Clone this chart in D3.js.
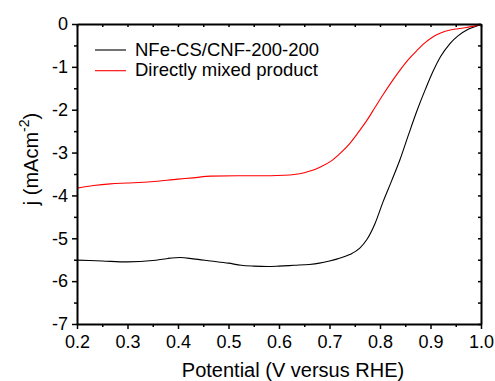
<!DOCTYPE html>
<html>
<head>
<meta charset="utf-8">
<script src="https://cdn.jsdelivr.net/npm/d3@7"></script>
<style>
  html, body { margin: 0; padding: 0; background: #fff; }
  svg text { font-family: "Liberation Sans", Arial, sans-serif; fill: #000; }
</style>
</head>
<body>
<svg id="chart" width="495" height="381"></svg>
<script>
// Linear sweep voltammetry curves: current density vs. potential
const potentialNFe = [0.20, 0.25, 0.30, 0.35, 0.38, 0.405, 0.43, 0.465, 0.50, 0.525, 0.55, 0.577, 0.60, 0.63, 0.66, 0.68, 0.70, 0.716, 0.74, 0.76, 0.774, 0.79, 0.806, 0.823, 0.84, 0.856, 0.873, 0.89, 0.906, 0.92, 0.939, 0.955, 0.972, 0.986, 1.0];
const currentNFe   = [-5.51, -5.53, -5.55, -5.52, -5.47, -5.45, -5.48, -5.53, -5.58, -5.63, -5.65, -5.66, -5.65, -5.63, -5.61, -5.58, -5.53, -5.48, -5.38, -5.23, -5.03, -4.66, -4.15, -3.66, -3.15, -2.60, -2.03, -1.52, -1.08, -0.76, -0.45, -0.27, -0.14, -0.07, -0.01];

const potentialMixed = [0.20, 0.233, 0.266, 0.30, 0.346, 0.40, 0.43, 0.465, 0.518, 0.55, 0.584, 0.61, 0.63, 0.65, 0.665, 0.681, 0.703, 0.72, 0.74, 0.757, 0.774, 0.79, 0.806, 0.823, 0.84, 0.856, 0.873, 0.89, 0.906, 0.92, 0.939, 0.955, 0.972, 0.986, 1.0];
const currentMixed   = [-3.83, -3.77, -3.73, -3.71, -3.68, -3.62, -3.59, -3.55, -3.54, -3.54, -3.54, -3.53, -3.51, -3.47, -3.42, -3.34, -3.20, -3.03, -2.79, -2.53, -2.25, -1.95, -1.65, -1.35, -1.07, -0.83, -0.62, -0.43, -0.29, -0.21, -0.14, -0.11, -0.08, -0.05, -0.01];

const seriesNames  = ["NFe-CS/CNF-200-200", "Directly mixed product"];
const seriesColors = ["#000000", "#ff0000"];

const xMajorTicks = [0.2, 0.3, 0.4, 0.5, 0.6, 0.7, 0.8, 0.9, 1.0];
const xMinorTicks = [0.25, 0.35, 0.45, 0.55, 0.65, 0.75, 0.85, 0.95];
const yMajorTicks = [0, -1, -2, -3, -4, -5, -6, -7];
const yMinorTicks = [-0.5, -1.5, -2.5, -3.5, -4.5, -5.5, -6.5];

const svg = d3.select("#chart");
const plotLeft = 77, plotRight = 481, plotTop = 24, plotBottom = 324;

const x = d3.scaleLinear().domain([0.2, 1.0]).range([plotLeft, plotRight]);
const y = d3.scaleLinear().domain([-7, 0]).range([plotBottom, plotTop]);

// Curves
const series = [
  { name: seriesNames[0], color: seriesColors[0], pts: potentialNFe.map((v, i) => [v, currentNFe[i]]) },
  { name: seriesNames[1], color: seriesColors[1], pts: potentialMixed.map((v, i) => [v, currentMixed[i]]) }
];
const line = d3.line().x(d => x(d[0])).y(d => y(d[1])).curve(d3.curveMonotoneX);
svg.append("g").selectAll("path").data(series).join("path")
  .attr("d", d => line(d.pts))
  .attr("fill", "none")
  .attr("stroke", d => d.color)
  .attr("stroke-width", 1.1);

// Axes: labelled bottom/left with outward ticks, mirrored top/right with inward ticks
function styleAxis(g) {
  g.select(".domain").attr("stroke", "#000").attr("stroke-width", 2);
  g.selectAll(".tick line").attr("stroke", "#000").attr("stroke-width", 1.5);
}
const fmtX = d3.format(".1f");

const gx = svg.append("g").attr("transform", `translate(0,${plotBottom})`)
  .call(d3.axisBottom(x).tickValues(xMajorTicks).tickFormat(fmtX).tickSize(5).tickPadding(6).tickSizeOuter(0));
styleAxis(gx);
gx.selectAll("text").attr("font-size", 18);
svg.append("g").attr("transform", `translate(0,${plotBottom})`)
  .call(d3.axisBottom(x).tickValues(xMinorTicks).tickFormat("").tickSize(3).tickSizeOuter(0))
  .call(g => { g.select(".domain").remove(); g.selectAll(".tick line").attr("stroke", "#000").attr("stroke-width", 1.5); });

const gy = svg.append("g").attr("transform", `translate(${plotLeft},0)`)
  .call(d3.axisLeft(y).tickValues(yMajorTicks).tickFormat(d => String(d)).tickSize(5).tickPadding(4).tickSizeOuter(0));
styleAxis(gy);
gy.selectAll("text").attr("font-size", 18);
svg.append("g").attr("transform", `translate(${plotLeft},0)`)
  .call(d3.axisLeft(y).tickValues(yMinorTicks).tickFormat("").tickSize(3).tickSizeOuter(0))
  .call(g => { g.select(".domain").remove(); g.selectAll(".tick line").attr("stroke", "#000").attr("stroke-width", 1.5); });

const gt = svg.append("g").attr("transform", `translate(0,${plotTop})`)
  .call(d3.axisBottom(x).tickValues(xMajorTicks.concat(xMinorTicks)).tickFormat("").tickSize(3).tickSizeOuter(0));
styleAxis(gt);
const gr = svg.append("g").attr("transform", `translate(${plotRight},0)`)
  .call(d3.axisRight(y).tickValues(yMajorTicks.concat(yMinorTicks)).tickFormat("").tickSize(-3).tickSizeOuter(0));
styleAxis(gr);

// Axis titles
svg.append("text")
  .attr("x", 293).attr("y", 376.5)
  .attr("text-anchor", "middle")
  .attr("font-size", 20)
  .text("Potential (V versus RHE)");

const yTitle = svg.append("text")
  .attr("transform", "translate(38,159) rotate(-90)")
  .attr("text-anchor", "middle")
  .attr("font-size", 20);
yTitle.append("tspan").text("j (mAcm");
yTitle.append("tspan").attr("font-size", 14).attr("dy", -9).text("-2");
yTitle.append("tspan").attr("dy", 9).text(")");

// Legend
const legend = svg.append("g").selectAll("g").data(series).join("g")
  .attr("transform", (d, i) => `translate(0,${50 + i * 20.7})`);
legend.append("line")
  .attr("x1", 95).attr("x2", 126).attr("y1", 0).attr("y2", 0)
  .attr("stroke", d => d.color).attr("stroke-width", 1.1);
legend.append("text")
  .attr("x", 135).attr("y", 5.5)
  .attr("font-size", 18.5)
  .text(d => d.name);
</script>
</body>
</html>
